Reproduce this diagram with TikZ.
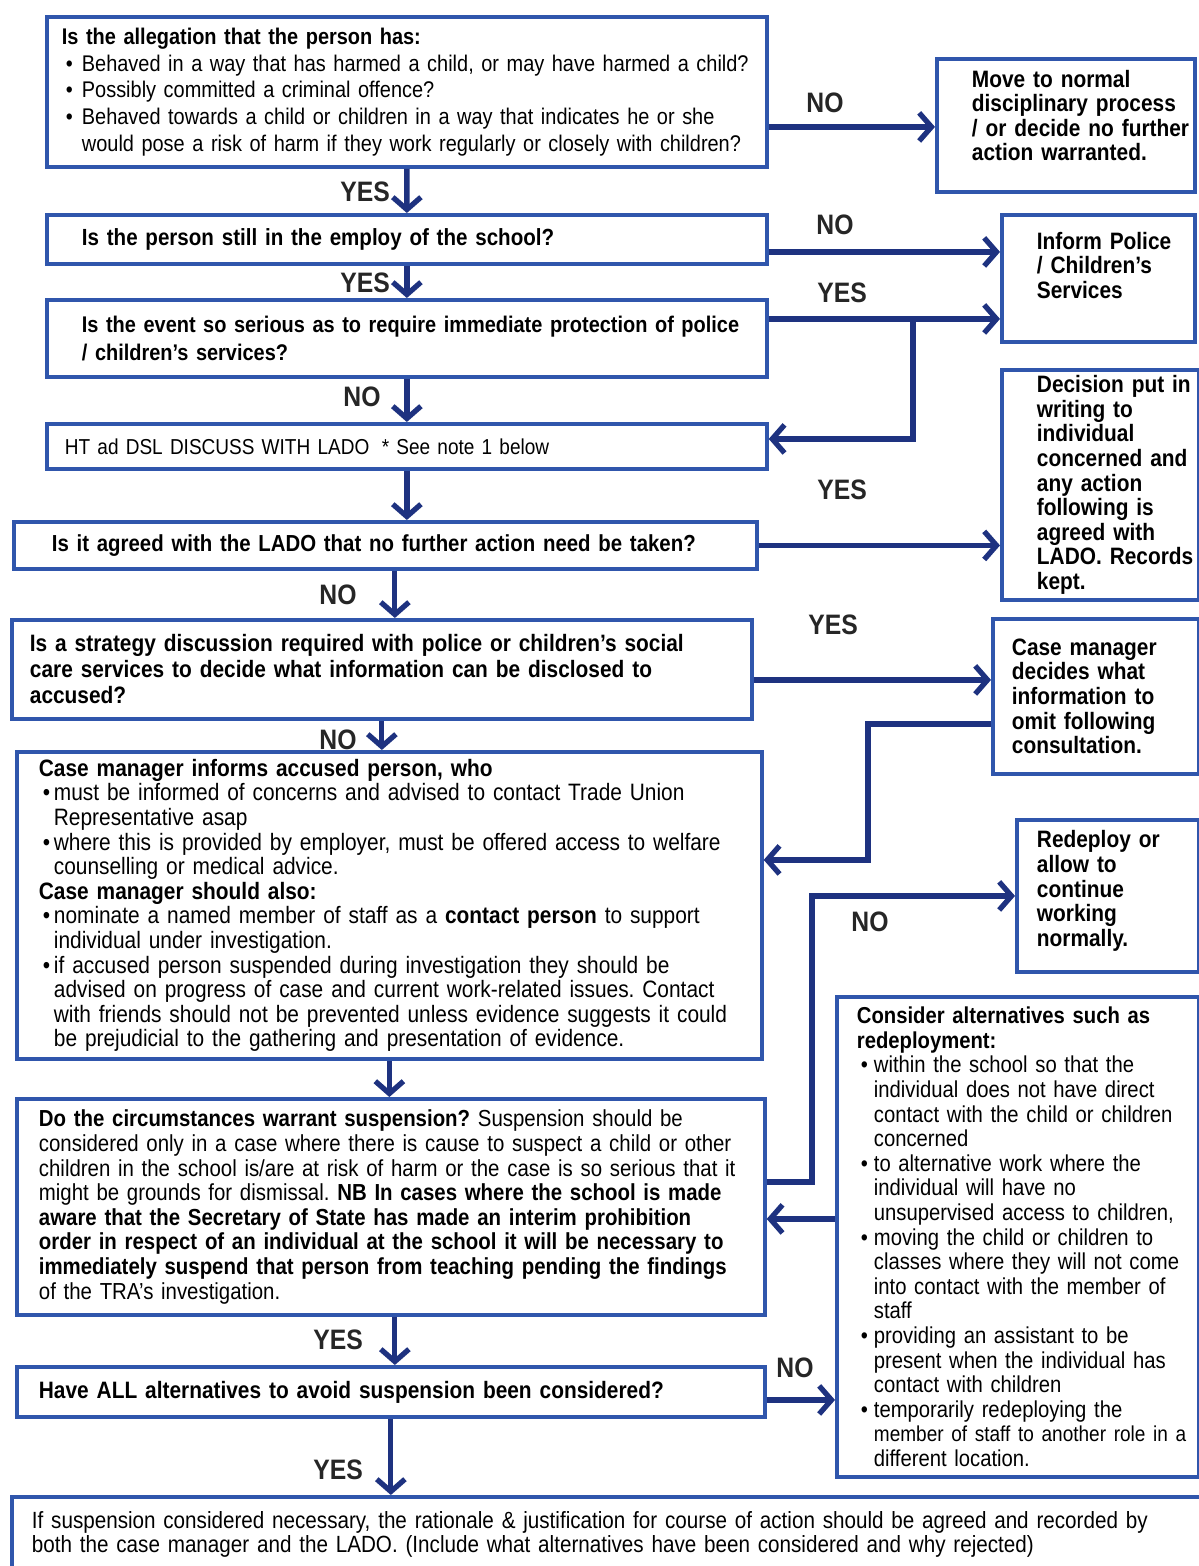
\documentclass[tikz,border=0pt]{standalone}
\usepackage{fontspec}
\setmainfont{Liberation Sans}[FakeStretch=0.88]
\usepackage{tikz}
\usetikzlibrary{arrows.meta,positioning}
\definecolor{boxblue}{RGB}{48,86,172}
\definecolor{arrowblue}{RGB}{30,50,128}
\newcommand{\bl}[1]{\makebox[#1][l]{\hspace*{0.08cm}\textbullet}}
\newcommand{\ind}[1]{\hspace*{#1}}
\newcommand{\jl}[1]{\makebox[13.72cm][s]{#1}}

\begin{document}
\begin{tikzpicture}[x=0.02cm,y=-0.02cm,
  box/.style={draw=boxblue,line width=2.2pt,anchor=north west,align=left,
    inner ysep=2pt,font=\fontsize{13.5}{14}\selectfont,
    execute at begin node={\rightskip=-6cm plus 1fil\frenchspacing}},
  bbox/.style={box,font=\bfseries\fontsize{13.5}{14}\selectfont},
  arrow/.style={draw=arrowblue,line width=3pt,-{Straight Barb[length=7pt,width=16pt]}},
  lbl/.style={font=\bfseries\fontsize{16}{16}\selectfont,text=black!85}
  ]
\useasboundingbox (0,0) rectangle (1199,1566);
\fill[white] (0,0) rectangle (1199,1566);

% Questions down the left side
\node[box,inner xsep=0.3cm,text width=13.8cm,minimum height=3cm,
  font=\fontsize{12.9}{15.2}\selectfont] (q1) at (45,15)
  {\textbf{Is the allegation that the person has:}\\
   \bl{0.4cm}Behaved in a way that has harmed a child, or may have harmed a child?\\
   \bl{0.4cm}Possibly committed a criminal offence?\\
   \bl{0.4cm}Behaved towards a child or children in a way that indicates he or she\\
   \ind{0.4cm}would pose a risk of harm if they work regularly or closely with children?};

\node[bbox,inner xsep=0.7cm,text width=13cm,minimum height=0.98cm,
  font=\bfseries\fontsize{13.3}{14}\selectfont] (q2) at (45,213)
  {Is the person still in the employ of the school?};

\node[bbox,inner xsep=0.7cm,text width=13cm,minimum height=1.54cm,
  font=\bfseries\fontsize{12.9}{15.8}\selectfont] (q3) at (45,298)
  {Is the event so serious as to require immediate protection of police\\
   / children's services?};

\node[box,inner xsep=0.36cm,text width=13.68cm,minimum height=0.9cm,
  font=\fontsize{12.3}{14}\selectfont] (q4) at (45,422)
  {HT ad DSL DISCUSS WITH LADO\hspace{0.25cm}* See note 1 below};

\node[bbox,inner xsep=0.76cm,text width=13.34cm,minimum height=0.94cm,
  font=\bfseries\fontsize{13.2}{14}\selectfont] (q5) at (12,520)
  {Is it agreed with the LADO that no further action need be taken?};

\node[bbox,inner xsep=0.36cm,text width=14.08cm,minimum height=1.98cm,
  font=\bfseries\fontsize{13.5}{14.8}\selectfont] (q6) at (10,618)
  {Is a strategy discussion required with police or children's social\\
   care services to decide what information can be disclosed to\\
   accused?};

\node[box,inner xsep=0.44cm,text width=14.02cm,minimum height=6.14cm] (b7) at (15,750)
  {\textbf{Case manager informs accused person, who}\\
   \bl{0.3cm}\jl{must be informed of concerns and advised to contact Trade Union}\\
   \ind{0.3cm}Representative asap\\
   \bl{0.3cm}\jl{where this is provided by employer, must be offered access to welfare}\\
   \ind{0.3cm}counselling or medical advice.\\
   \textbf{Case manager should also:}\\
   \bl{0.3cm}\jl{nominate a named member of staff as a \textbf{contact person} to support}\\
   \ind{0.3cm}individual under investigation.\\
   \bl{0.3cm}\jl{if accused person suspended during investigation they should be}\\
   \ind{0.3cm}\jl{advised on progress of case and current work-related issues. Contact}\\
   \ind{0.3cm}\jl{with friends should not be prevented unless evidence suggests it could}\\
   \ind{0.3cm}be prejudicial to the gathering and presentation of evidence.};

\node[box,inner xsep=0.44cm,text width=14.08cm,minimum height=4.32cm,
  font=\fontsize{13.2}{14}\selectfont] (b8) at (15,1097)
  {\textbf{Do the circumstances warrant suspension?} Suspension should be\\
   considered only in a case where there is cause to suspect a child or other\\
   children in the school is/are at risk of harm or the case is so serious that it\\
   might be grounds for dismissal. \textbf{NB In cases where the school is made}\\
   \textbf{aware that the Secretary of State has made an interim prohibition}\\
   \textbf{order in respect of an individual at the school it will be necessary to}\\
   \textbf{immediately suspend that person from teaching pending the findings}\\
   of the TRA's investigation.};

\node[bbox,inner xsep=0.44cm,text width=14.08cm,minimum height=1cm] (q9) at (15,1365)
  {Have ALL alternatives to avoid suspension been considered?};

\node[box,inner xsep=0.4cm,text width=23.2cm,minimum height=1.5cm,
  font=\fontsize{13.35}{13.2}\selectfont] (fin) at (10,1495)
  {If suspension considered necessary, the rationale \& justification for course of action should be agreed and recorded by\\
   both the case manager and the LADO. (Include what alternatives have been considered and why rejected)};

% Outcomes down the right side
\node[bbox,inner xsep=0.7cm,text width=3.76cm,minimum height=2.66cm] (r1) at (935,57)
  {Move to normal\\disciplinary process\\/ or decide no further\\action warranted.\vspace*{0.4cm}};

\node[bbox,inner xsep=0.7cm,text width=2.46cm,minimum height=2.54cm] (r2) at (1000,213)
  {Inform Police\\/ Children's\\Services\vspace*{0.52cm}};

\node[bbox,inner xsep=0.7cm,text width=2.54cm,minimum height=4.6cm] (r3) at (1000,368)
  {Decision put in\\writing to\\individual\\concerned and\\any action\\following is\\agreed with\\LADO. Records\\kept.};

\node[bbox,inner xsep=0.38cm,text width=3.36cm,minimum height=3.1cm] (r4) at (991,617)
  {Case manager\\decides what\\information to\\omit following\\consultation.};

\node[bbox,inner xsep=0.4cm,text width=2.84cm,minimum height=3.04cm] (r5) at (1015,818)
  {Redeploy or\\allow to\\continue\\working\\normally.\vspace*{0.2cm}};

\node[box,inner xsep=0.4cm,text width=6.44cm,minimum height=9.6cm,
  font=\fontsize{13.1}{14}\selectfont] (r6) at (835,995)
  {\textbf{Consider alternatives such as}\\
   \textbf{redeployment:}\\
   \bl{0.34cm}within the school so that the\\
   \ind{0.34cm}individual does not have direct\\
   \ind{0.34cm}contact with the child or children\\
   \ind{0.34cm}concerned\\
   \bl{0.34cm}to alternative work where the\\
   \ind{0.34cm}individual will have no\\
   \ind{0.34cm}unsupervised access to children,\\
   \bl{0.34cm}moving the child or children to\\
   \ind{0.34cm}classes where they will not come\\
   \ind{0.34cm}into contact with the member of\\
   \ind{0.34cm}staff\\
   \bl{0.34cm}providing an assistant to be\\
   \ind{0.34cm}present when the individual has\\
   \ind{0.34cm}contact with children\\
   \bl{0.34cm}temporarily redeploying the\\
   \ind{0.34cm}{\fontsize{12.3}{14}\selectfont member of staff to another role in a}\\
   \ind{0.34cm}different location.};

% YES / NO labels
\node[lbl] (yes1) at (365,192) {YES};
\node[lbl] (no1)  at (825,103) {NO};
\node[lbl] (no2)  at (835,225) {NO};
\node[lbl] (yes2) at (365,283) {YES};
\node[lbl] (yes3) at (842,293) {YES};
\node[lbl] (no3)  at (362,397) {NO};
\node[lbl] (yes4) at (842,490) {YES};
\node[lbl] (no4)  at (338,595) {NO};
\node[lbl] (yes5) at (833,625) {YES};
\node[lbl] (no5)  at (338,740) {NO};
\node[lbl] (no6)  at (870,922) {NO};
\node[lbl] (yes6) at (338,1340) {YES};
\node[lbl] (no7)  at (795,1368) {NO};
\node[lbl] (yes7) at (338,1470) {YES};

% Main line downwards
\draw[arrow] (q1.south) -- (q2.north);
\draw[arrow] (q2.south) -- (q3.north);
\draw[arrow] (q3.south) -- (q4.north);
\draw[arrow] (q4.south) -- (q4.south |- q5.north);
\coordinate (q5s) at ([xshift=0.19cm]q5.south);
\draw[arrow] (q5s) -- (q5s |- q6.north);
\draw[arrow] (q6.south) -- (q6.south |- b7.north);
\draw[arrow] (b7.south) -- (b7.south |- b8.north);
\coordinate (b8s) at ([xshift=0.08cm]b8.south);
\draw[arrow] (b8s) -- (b8s |- q9.north);
\draw[arrow] (q9.south) -- (q9.south |- fin.north);

% Side branches
\coordinate (q1no) at ([yshift=-0.7cm]q1.east);
\draw[arrow] (q1no) -- (q1no -| r1.west);
\coordinate (q2no) at ([yshift=-0.25cm]q2.east);
\draw[arrow] (q2no) -- (q2no -| r2.west);
\coordinate (q3yes) at ([yshift=0.39cm]q3.east);
\draw[arrow] (q3yes) -- (q3yes -| r2.west);
\coordinate (split1) at (913,0);
\coordinate (q4in) at ([yshift=0.15cm]q4.east);
\draw[arrow] (q3yes -| split1) |- (q4in);
\draw[arrow] (q5.east) -- (q5.east -| r3.west);
\coordinate (q6yes) at ([yshift=-0.21cm]q6.east);
\draw[arrow] (q6yes) -- (q6yes -| r4.west);
\coordinate (r4out) at ([yshift=-0.55cm]r4.west);
\coordinate (split2) at (868,0);
\coordinate (b7in) at ([yshift=0.91cm]b7.east);
\draw[arrow] (r4out) -- (r4out -| split2) |- (b7in);
\coordinate (b8out) at ([yshift=0.5cm]b8.east);
\coordinate (split3) at (812,0);
\draw[arrow] (b8out) -- (b8out -| split3) |- (r5.west);
\coordinate (r6out) at ([yshift=0.36cm]r6.west);
\draw[arrow] (r6out) -- (r6out -| b8.east);
\coordinate (q9no) at ([yshift=-0.16cm]q9.east);
\draw[arrow] (q9no) -- (q9no -| r6.west);

\end{tikzpicture}
\end{document}
